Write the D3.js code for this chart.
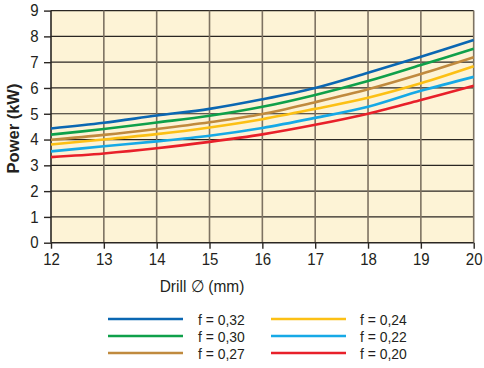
<!DOCTYPE html>
<html><head><meta charset="utf-8">
<script src="https://cdn.jsdelivr.net/npm/d3@7"></script>
<style>
html,body{margin:0;padding:0;background:#fff;}
svg{display:block;font-family:"Liberation Sans",Arial,sans-serif;}
</style></head>
<body>
<svg id="c" width="484" height="368"></svg>
<script>
const drill = [12,13,14,15,16,17,18,19,20];
const series = ["f = 0,32","f = 0,30","f = 0,27","f = 0,24","f = 0,22","f = 0,20"];
const colors = ["#0b67b2","#0fa04a","#c08a3e","#fcc015","#16a9e6","#e8202a"];
const p032 = [4.43,4.65,4.93,5.19,5.56,6.00,6.59,7.21,7.86];
const p030 = [4.19,4.41,4.66,4.92,5.27,5.73,6.27,6.89,7.52];
const p027 = [3.99,4.18,4.41,4.67,4.99,5.45,5.95,6.54,7.19];
const p024 = [3.81,4.00,4.21,4.47,4.79,5.19,5.62,6.18,6.84];
const p022 = [3.54,3.74,3.93,4.15,4.45,4.84,5.27,5.89,6.43];
const p020 = [3.32,3.46,3.66,3.91,4.20,4.57,5.00,5.53,6.09];
const values = [p032,p030,p027,p024,p022,p020];
const yTicks = [0,1,2,3,4,5,6,7,8,9];

const svg = d3.select("#c");
const L=51, R=473.7, T=10.6, B=242.7;
const SX = 0.91;
const x = d3.scaleLinear().domain([12,20]).range([L,R]);
const y = d3.scaleLinear().domain([0,9]).range([B,T]);

svg.append("rect").attr("x",L).attr("y",T).attr("width",R-L).attr("height",B-T).attr("fill","#fdf3d6");

svg.append("g").selectAll("line").data(yTicks.slice(1)).join("line")
  .attr("x1",L).attr("x2",R).attr("y1",d=>y(d)).attr("y2",d=>y(d))
  .attr("stroke","#2a2622").attr("stroke-width",1.2);
svg.append("g").selectAll("line").data(drill.slice(1)).join("line")
  .attr("x1",d=>x(d)).attr("x2",d=>x(d)).attr("y1",T).attr("y2",B)
  .attr("stroke","#7d7262").attr("stroke-width",1.6);

const xa = svg.append("g").attr("transform",`translate(0,${B})`)
  .call(d3.axisBottom(x).tickValues(drill).tickFormat(d3.format("d")).tickSize(6).tickPadding(4));
const ya = svg.append("g").attr("transform",`translate(${L},0)`)
  .call(d3.axisLeft(y).tickValues(yTicks).tickSize(7).tickPadding(4));
[xa,ya].forEach(g=>{
  g.select(".domain").attr("stroke","#2a2622").attr("stroke-width",1.6);
  g.selectAll(".tick line").attr("stroke","#2a2622").attr("stroke-width",1.4);
  g.selectAll("text").attr("fill","#231f20").style("font-size","16.5px").style("font-family","Liberation Sans, Arial, sans-serif");
});
xa.selectAll(".tick text").attr("y",null).attr("dy",null)
  .attr("transform",`translate(0,22) scale(${SX},1)`);
ya.selectAll(".tick text").attr("x",null)
  .attr("transform",`translate(-12.5,0) scale(${SX},1)`);
xa.select(".domain").attr("d",`M${L},0H${R}`);
ya.select(".domain").attr("d",`M0,${B}V${T}`);

const line = d3.line().x((d,i)=>x(drill[i])).y(d=>y(d)).curve(d3.curveCatmullRom.alpha(0.5));
svg.append("g").selectAll("path").data(values).join("path")
  .attr("d",d=>line(d)).attr("fill","none")
  .attr("stroke",(d,i)=>colors[i]).attr("stroke-width",2.6);

svg.append("text").attr("transform",`translate(202,292) scale(${SX},1)`).attr("text-anchor","middle")
  .attr("fill","#231f20").style("font-size","17px").text("Drill \u2205 (mm)");
svg.append("text").attr("transform","translate(19,128.5) rotate(-90)").attr("text-anchor","middle")
  .attr("fill","#231f20").style("font-size","16.5px").style("font-weight","bold").text("Power (kW)");

const lg = svg.append("g");
series.forEach((s,i)=>{
  const col = Math.floor(i/3), row = i%3;
  const lx = col===0 ? 108 : 271;
  const tx = col===0 ? 198 : 360;
  const ly = 319 + row*17;
  lg.append("line").attr("x1",lx).attr("x2",lx+75).attr("y1",ly).attr("y2",ly)
    .attr("stroke",colors[i]).attr("stroke-width",2.4);
  lg.append("text").attr("transform",`translate(${tx},${ly+5.8}) scale(${SX},1)`).attr("fill","#231f20")
    .style("font-size","15.3px").text(s);
});
</script>
</body></html>
